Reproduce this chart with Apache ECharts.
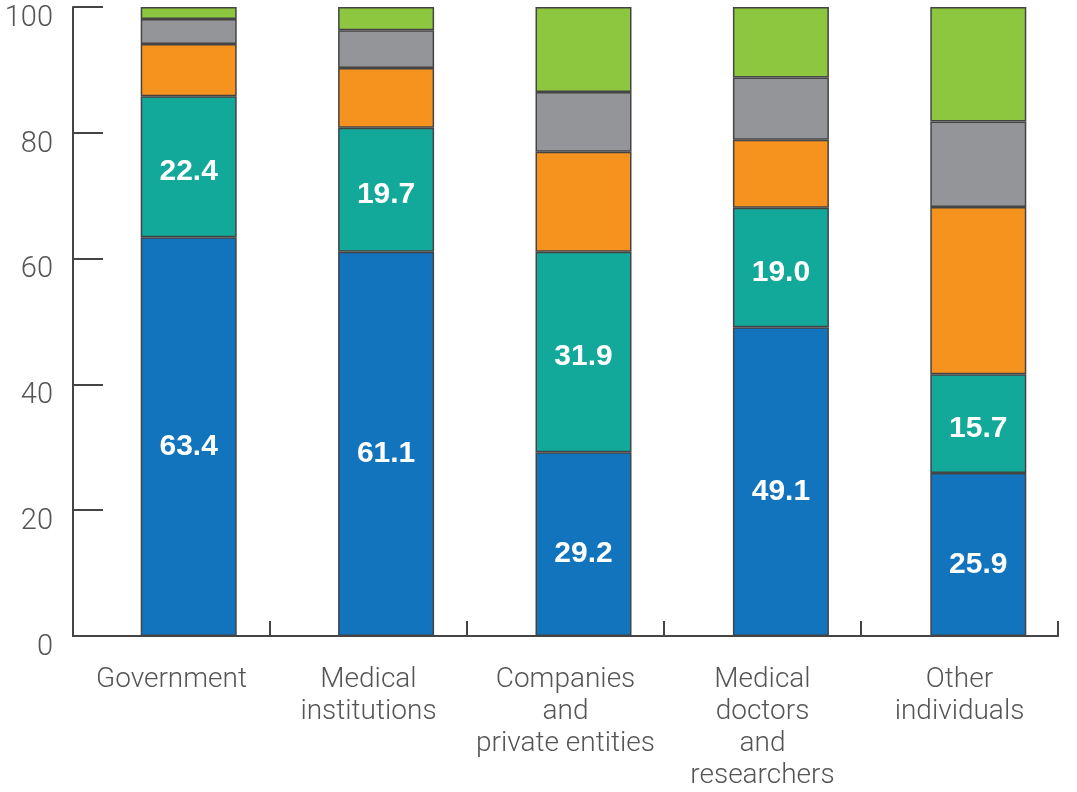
<!DOCTYPE html>
<html>
<head>
<meta charset="utf-8">
<script src="https://cdn.jsdelivr.net/npm/echarts@6/dist/echarts.min.js"></script>
<style>
html,body{margin:0;padding:0;background:#fff;}
#chart{width:1077px;height:792px;}
</style>
</head>
<body>
<div id="chart"></div>
<script>
const categories = ['Government', 'Medical\ninstitutions', 'Companies\nand\nprivate entities', 'Medical\ndoctors\nand\nresearchers', 'Other\nindividuals'];
const blueVals   = [63.4, 61.1, 29.2, 49.1, 25.9];
const tealVals   = [22.4, 19.7, 31.9, 19.0, 15.7];
const orangeVals = [8.3, 9.5, 15.9, 10.8, 26.6];
const grayVals   = [4.0, 6.0, 9.5, 9.9, 13.6];
const greenVals  = [1.9, 3.7, 13.5, 11.2, 18.2];

const FONT = 'Roboto, "Liberation Sans", sans-serif';
const chart = echarts.init(document.getElementById('chart'), null, {renderer: 'canvas'});

function seg(name, data, color, showLabel, offY) {
  return {
    name: name,
    type: 'bar',
    stack: 'total',
    xAxisIndex: 1,
    yAxisIndex: 1,
    barWidth: 96,
    data: data,
    itemStyle: {color: color, borderColor: '#444', borderWidth: 1.5},
    label: {
      show: showLabel,
      position: 'inside',
      offset: [0, offY || 0],
      color: '#fff',
      fontFamily: '"Liberation Sans", Arial, sans-serif',
      fontWeight: 'bold',
      fontSize: 30,
      formatter: p => p.value.toFixed(1)
    },
    emphasis: {disabled: true},
    animation: false
  };
}

chart.setOption({
  animation: false,
  grid: [
    {left: 73, right: 19, top: 7, bottom: 156},
    {left: 90, right: 0, top: 7, bottom: 156}
  ],
  xAxis: [
    {
      type: 'category', gridIndex: 0, data: categories,
      axisLine: {show: true, lineStyle: {color: '#444', width: 2}},
      axisTick: {show: true, inside: true, length: 15, lineStyle: {color: '#444', width: 2}},
      axisLabel: {interval: 0, margin: 28, color: '#555', fontFamily: FONT, fontWeight: 300, fontSize: 28, lineHeight: 32}
    },
    {
      type: 'category', gridIndex: 1, data: categories, show: false
    }
  ],
  yAxis: [
    {
      type: 'value', gridIndex: 0, min: 0, max: 100, interval: 20,
      axisLine: {show: true, lineStyle: {color: '#444', width: 2}},
      axisTick: {show: true, inside: true, length: 30, lineStyle: {color: '#444', width: 2}},
      splitLine: {show: false},
      axisLabel: {margin: 20, color: '#555', fontFamily: FONT, fontWeight: 300, fontSize: 29, verticalAlign: 'top', lineHeight: 29, padding: [-3, 0, 0, 0]}
    },
    {
      type: 'value', gridIndex: 1, min: 0, max: 100, show: false
    }
  ],
  series: [
    seg('Blue', blueVals, '#1174BC', true, 10),
    seg('Teal', tealVals, '#12A89A', true, 5),
    seg('Orange', orangeVals, '#F6921E', false),
    seg('Gray', grayVals, '#939598', false),
    seg('Green', greenVals, '#8DC63F', false)
  ]
});
</script>
</body>
</html>
